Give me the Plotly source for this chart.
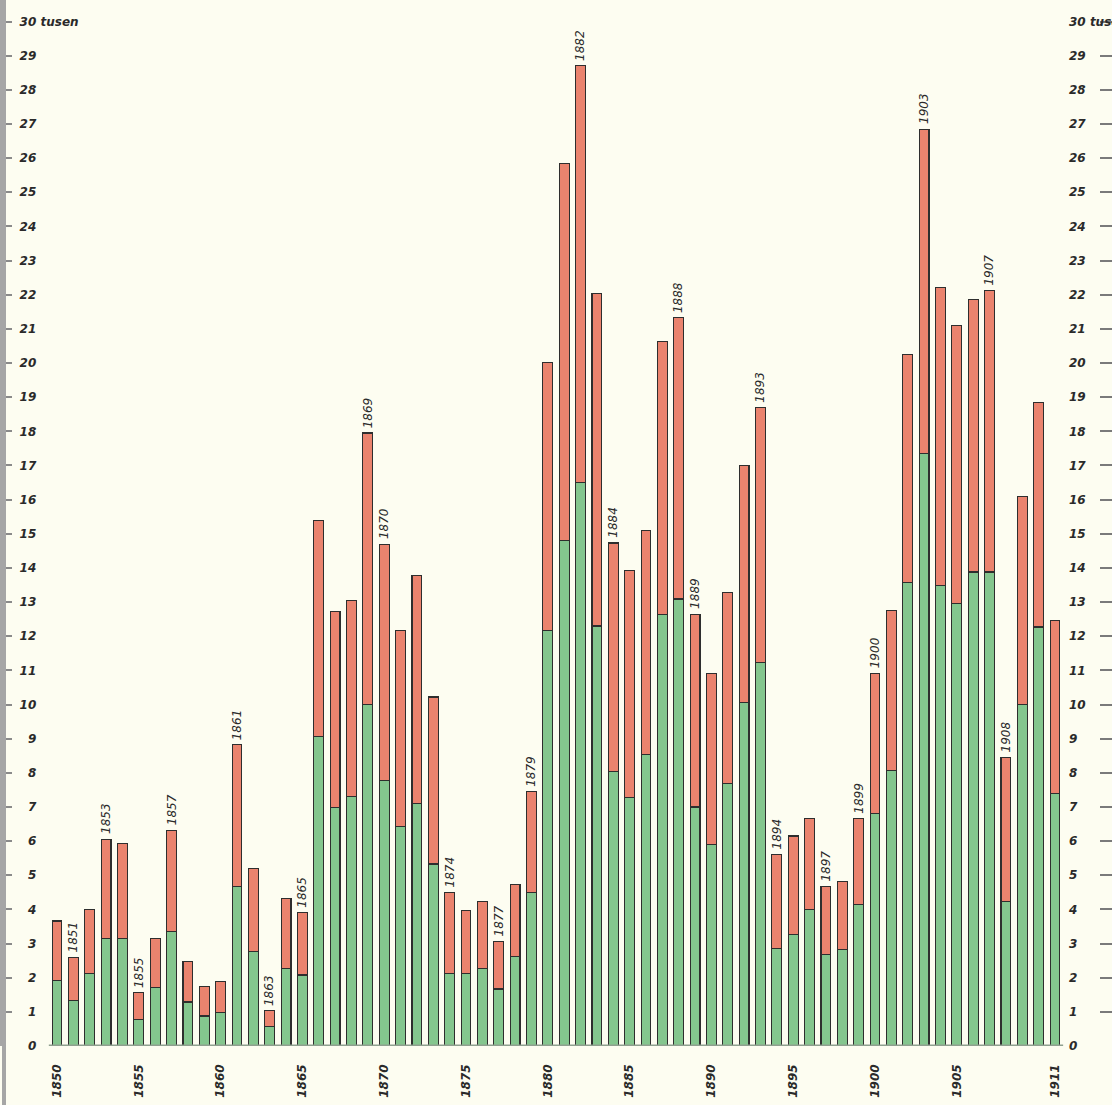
import plotly.graph_objects as go

years = list(range(1850, 1912))

green = [1.93, 1.32, 2.13, 3.14, 3.14, 0.78, 1.72, 3.34, 1.29, 0.88,
         0.97, 4.68, 2.76, 0.58, 2.26, 2.08, 9.07, 6.98, 7.31, 10.00,
         7.77, 6.44, 7.09, 5.33, 2.13, 2.13, 2.28, 1.67, 2.61, 4.50,
         12.18, 14.79, 16.50, 12.30, 8.04, 7.28, 8.54, 12.64, 13.09, 7.00,
         5.89, 7.70, 10.05, 11.23, 2.86, 3.27, 4.00, 2.67, 2.82, 4.14,
         6.82, 8.07, 13.58, 17.36, 13.49, 12.95, 13.88, 13.88, 4.23, 10.01,
         12.27, 7.39]

red = [1.73, 1.27, 1.87, 2.91, 2.79, 0.78, 1.44, 2.98, 1.18, 0.87,
       0.91, 4.14, 2.45, 0.45, 2.05, 1.82, 6.31, 5.75, 5.74, 7.95,
       6.92, 5.74, 6.68, 4.89, 2.37, 1.85, 1.96, 1.40, 2.13, 2.94,
       7.84, 11.04, 12.20, 9.74, 6.69, 6.64, 6.55, 7.98, 8.23, 5.64,
       5.02, 5.58, 6.94, 7.46, 2.76, 2.88, 2.67, 2.01, 2.00, 2.52,
       4.08, 4.68, 6.67, 9.48, 8.72, 8.16, 7.99, 8.24, 4.23, 6.09,
       6.58, 5.08]

labelled_years = [1851, 1853, 1855, 1857, 1861, 1863, 1865, 1869, 1870, 1874,
                  1877, 1879, 1882, 1884, 1888, 1889, 1893, 1894, 1897, 1899,
                  1900, 1903, 1907, 1908]

x_tick_years = [1850, 1855, 1860, 1865, 1870, 1875, 1880, 1885, 1890, 1895,
                1900, 1905, 1911]

y_ticks = list(range(0, 31))
left_tick_text = [("\u2007" + str(v)) if v < 10 else str(v) for v in y_ticks[:-1]] + ["30 tusen"]
right_tick_text = [str(v) for v in y_ticks[:-1]] + ["30 tusen"]

BG = "#fdfdf1"
GREEN = "#84c68e"
RED = "#ea836e"
EDGE = "#2e2e2e"
TXT = "#2a2a2a"
FONT = "DejaVu Sans"

fig = go.Figure()
fig.add_trace(go.Bar(x=years, y=green, marker=dict(color=GREEN, line=dict(color=EDGE, width=1.1)),
                     width=0.6, showlegend=False, hoverinfo="skip"))
fig.add_trace(go.Bar(x=years, y=red, marker=dict(color=RED, line=dict(color=EDGE, width=1.1)),
                     width=0.6, showlegend=False, hoverinfo="skip"))
# invisible helpers so the right-hand axes are drawn
fig.add_trace(go.Scatter(x=[years[0]], y=[0], yaxis="y2", mode="markers",
                         marker=dict(opacity=0), showlegend=False, hoverinfo="skip"))
fig.add_trace(go.Scatter(x=[years[0]], y=[0], yaxis="y3", mode="markers",
                         marker=dict(opacity=0), showlegend=False, hoverinfo="skip"))

totals = {y: g + r for y, g, r in zip(years, green, red)}
for yr in labelled_years:
    fig.add_annotation(x=yr, y=totals[yr], text=str(yr), textangle=-90, showarrow=False,
                       xanchor="center", yanchor="bottom", yshift=3,
                       font=dict(family=FONT, size=12, color=TXT, style="italic"))

W, H = 1112, 1105
ML, MR, MT, MB = 4, 0, 0, 59
px_per_year = 16.36
x0 = 1850 - (57 - ML) / px_per_year
x1 = x0 + (W - ML - MR) / px_per_year
px_per_unit = 34.15
yr_max = (H - MT - MB) / px_per_unit
yrange = [0, yr_max]

tickfont = dict(family=FONT, size=12, color=TXT, style="italic", weight="bold")

fig.update_layout(
    width=W, height=H,
    margin=dict(l=ML, r=MR, t=MT, b=MB, autoexpand=False),
    paper_bgcolor=BG, plot_bgcolor=BG,
    barmode="stack", bargap=0.4,
    xaxis=dict(range=[x0, x1], tickmode="array", tickvals=x_tick_years,
               ticktext=[str(v) for v in x_tick_years], tickangle=-90,
               tickfont=dict(family=FONT, size=12, color=TXT, style="italic", weight="bold"),
               ticklabelstandoff=15, ticklabeloverflow="allow", automargin=False,
               showgrid=False, zeroline=False, showline=False, ticks=""),
    yaxis=dict(range=yrange, tickmode="array", tickvals=y_ticks, ticktext=left_tick_text,
               ticks="inside", ticklen=8, tickwidth=1.5, tickcolor="#8a8a8a",
               ticklabelposition="inside", ticklabelstandoff=7, ticklabeloverflow="allow",
               tickfont=tickfont, showgrid=False, zeroline=False, automargin=False,
               showline=True, linecolor="#a6a6a6", linewidth=4),
    yaxis2=dict(range=yrange, overlaying="y", side="right", anchor="x",
                tickmode="array", tickvals=y_ticks, showticklabels=False,
                ticks="inside", ticklen=12, tickwidth=1.5, tickcolor="#7a7a7a",
                automargin=False,
                showgrid=False, zeroline=False, showline=False),
    yaxis3=dict(range=yrange, overlaying="y", side="right", anchor="free",
                position=(1066 - ML) / (W - ML - MR),
                tickmode="array", tickvals=y_ticks, ticktext=right_tick_text,
                ticks="", ticklabelstandoff=2, tickfont=tickfont, ticklabeloverflow="allow",
                automargin=False,
                showgrid=False, zeroline=False, showline=False),
    shapes=[
        dict(type="line", xref="paper", yref="paper", x0=0, x1=0, y0=-0.1, y1=1,
             line=dict(color="#a6a6a6", width=4)),
        dict(type="line", xref="x", yref="y", x0=1849.5, x1=1911.5, y0=0, y1=0,
             line=dict(color="#8fa08f", width=3)),
    ],
)

fig.write_html(
    "out.html",
    config={"displayModeBar": False},
    post_script="document.body.style.margin='0';document.body.style.padding='0';"
                "document.body.style.background='#fdfdf1';document.body.style.overflow='hidden';",
)
